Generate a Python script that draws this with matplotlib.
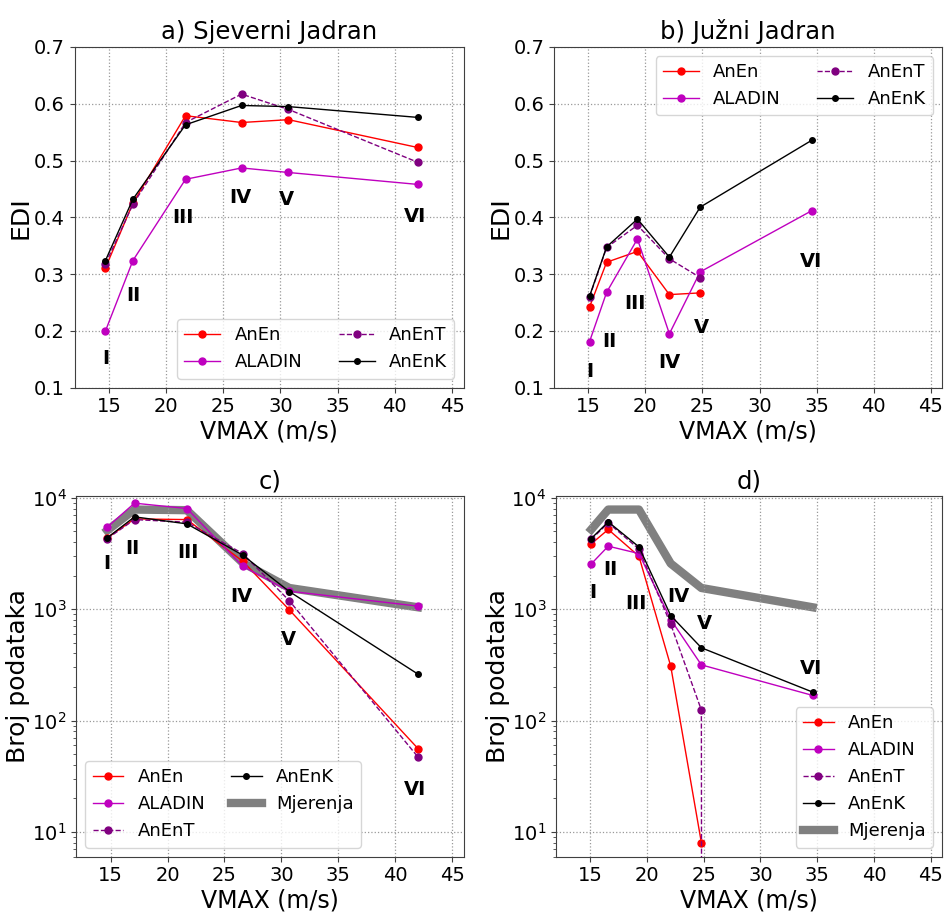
import matplotlib

matplotlib.use("Agg")
import matplotlib.pyplot as plt  # noqa: E402
import numpy as np  # noqa: E402

# category mid-points (VMAX classes I..VI)
x_N = [14.7, 17.1, 21.7, 26.6, 30.7, 42.0]   # Sjeverni Jadran
x_S = [15.1, 16.6, 19.3, 22.1, 24.8, 34.6]   # Juzni Jadran
classes = ["I", "II", "III", "IV", "V", "VI"]

# EDI, north
edi_N_anen = [0.311, 0.425, 0.579, 0.567, 0.572, 0.523]
edi_N_aladin = [0.200, 0.324, 0.467, 0.487, 0.479, 0.458]
edi_N_anent = [0.318, 0.423, 0.567, 0.617, 0.590, 0.497]
edi_N_anenk = [0.324, 0.432, 0.563, 0.597, 0.595, 0.576]

# EDI, south (no AnEn/AnEnT score in class VI)
edi_S_anen = [0.242, 0.321, 0.340, 0.264, 0.267, np.nan]
edi_S_aladin = [0.181, 0.268, 0.362, 0.195, 0.304, 0.412]
edi_S_anent = [0.260, 0.347, 0.386, 0.327, 0.294, np.nan]
edi_S_anenk = [0.261, 0.348, 0.397, 0.330, 0.418, 0.536]

# number of data, north
cnt_N_anen = [4375, 6470, 6380, 2700, 986, 56]
cnt_N_aladin = [5460, 8960, 8020, 2430, 1450, 1065]
cnt_N_anent = [4300, 6380, 6040, 3160, 1190, 47]
cnt_N_anenk = [4375, 6750, 5840, 3060, 1440, 261]
cnt_N_obs = [5090, 7850, 7750, 2610, 1550, 1040]

# number of data, south
cnt_S_anen = [3860, 5200, 2990, 308, 8, np.nan]
cnt_S_aladin = [2550, 3680, 3160, 807, 316, 168]
cnt_S_anent = [4230, 5960, 3470, 733, 124, 0]
cnt_S_anenk = [4310, 6080, 3630, 877, 450, 180]
cnt_S_obs = [5200, 7850, 7850, 2570, 1550, 1040]

# where the class labels sit in each panel
lab_y_a = [0.151, 0.263, 0.399, 0.435, 0.432, 0.401]
lab_y_b = [0.129, 0.182, 0.249, 0.144, 0.206, 0.323]
lab_y_c = [2570, 3480, 3200, 1310, 535, 24]
lab_y_d = [1420, 2270, 1120, 1290, 743, 291]
lab_x_a = [14.7, 17.1, 21.5, 26.5, 30.5, 41.8]
lab_x_b = [15.1, 16.8, 19.1, 22.1, 24.9, 34.5]
lab_x_c = [14.7, 16.9, 21.8, 26.5, 30.6, 41.7]
lab_x_d = [15.2, 16.8, 19.0, 22.8, 25.1, 34.5]

plt.rcParams["axes.edgecolor"] = "0.25"
plt.rcParams["xtick.color"] = "0.25"
plt.rcParams["ytick.color"] = "0.25"
plt.rcParams["xtick.labelcolor"] = "black"
plt.rcParams["ytick.labelcolor"] = "black"

fig, axes = plt.subplots(2, 2, figsize=(9.44, 9.21), dpi=100, facecolor="white")
axa, axb, axc, axd = axes.ravel()
axa.set_position([0.079, 0.579, 0.412, 0.370])
axb.set_position([0.587, 0.579, 0.411, 0.370])
axc.set_position([0.081, 0.070, 0.410, 0.391])
axd.set_position([0.589, 0.070, 0.409, 0.391])


def draw(ax, x, anen, aladin, anent, anenk, obs=None):
    if obs is not None:
        ax.plot(x, obs, color="gray", lw=6, label="Mjerenja", zorder=1)
    ax.plot(x, anen, "-o", color="red", lw=1, ms=5, label="AnEn", zorder=3)
    ax.plot(x, aladin, "-o", color="m", lw=1, ms=5, label="ALADIN", zorder=3)
    ax.plot(x, anent, "--o", color="purple", lw=1, ms=5, label="AnEnT", zorder=3)
    ax.plot(x, anenk, "-o", color="black", lw=1, ms=4, label="AnEnK", zorder=3)


def style(ax, xs, ys):
    ax.set_xlim(12, 46)
    ax.set_xticks([15, 20, 25, 30, 35, 40, 45])
    ax.grid(True, which="major", linestyle=":", color="0.6", lw=0.9)
    ax.tick_params(labelsize=14, direction="out")
    ax.set_xlabel("VMAX (m/s)", fontsize=17, labelpad=2)
    for xx, yy, t in zip(xs, ys, classes):
        ax.text(xx, yy, t, fontsize=14, fontweight="bold", ha="center",
                va="center")


draw(axa, x_N, edi_N_anen, edi_N_aladin, edi_N_anent, edi_N_anenk)
draw(axb, x_S, edi_S_anen, edi_S_aladin, edi_S_anent, edi_S_anenk)
draw(axc, x_N, cnt_N_anen, cnt_N_aladin, cnt_N_anent, cnt_N_anenk, cnt_N_obs)
draw(axd, x_S, cnt_S_anen, cnt_S_aladin, cnt_S_anent, cnt_S_anenk, cnt_S_obs)

for ax in (axa, axb):
    ax.set_ylim(0.1, 0.7)
    ax.set_ylabel("EDI", fontsize=18)
    ax.yaxis.set_label_coords(-0.108, 0.5)
for ax in (axc, axd):
    ax.set_yscale("log")
    ax.set_ylim(6, 10300)
    ax.set_ylabel("Broj podataka", fontsize=18)
    ax.yaxis.set_label_coords(-0.12, 0.5)

style(axa, lab_x_a, lab_y_a)
style(axb, lab_x_b, lab_y_b)
style(axc, lab_x_c, lab_y_c)
style(axd, lab_x_d, lab_y_d)

axa.set_title("a) Sjeverni Jadran", fontsize=17.5)
axb.set_title("b) Južni Jadran", fontsize=17.5)
axc.set_title("c)", fontsize=17.5)
axd.set_title("d)", fontsize=17.5)

axa.legend(loc="lower right", ncol=2, fontsize=13, handlelength=2.0,
           columnspacing=2.0)
axb.legend(loc="upper right", ncol=2, fontsize=13, handlelength=2.0,
           columnspacing=2.0)
h, l = axc.get_legend_handles_labels()
order = [1, 2, 3, 4, 0]
axc.legend([h[i] for i in order], [l[i] for i in order], loc="lower left",
           ncol=2, fontsize=13, handlelength=1.7, columnspacing=1.4)
h, l = axd.get_legend_handles_labels()
axd.legend([h[i] for i in order], [l[i] for i in order], loc="lower right",
           fontsize=13, handlelength=1.7)

fig.savefig("out.png", dpi=100)
